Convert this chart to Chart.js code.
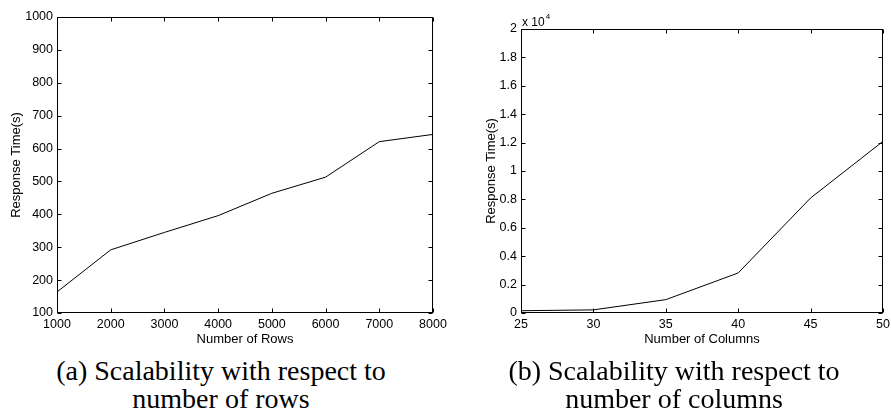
<!DOCTYPE html>
<html><head><meta charset="utf-8">
<script src="https://cdn.jsdelivr.net/npm/chart.js@4/dist/chart.umd.min.js"></script>
<style>
html,body{margin:0;padding:0;background:#fff;width:891px;height:414px;overflow:hidden;}
.box{position:absolute;}
.cap{position:absolute;font-family:'Liberation Serif','Times New Roman',serif;font-size:28px;line-height:28px;text-align:center;color:#000;white-space:nowrap;width:420px;}
</style></head><body>
<div class="box" style="left:0;top:0;width:460px;height:350px"><canvas id="c1" width="460" height="350"></canvas></div>
<div class="box" style="left:450px;top:0;width:441px;height:350px"><canvas id="c2" width="441" height="350"></canvas></div>
<div class="cap" style="left:11px;top:357px">(a) Scalability with respect to<br>number of rows</div>
<div class="cap" style="left:464px;top:357px">(b) Scalability with respect to<br>number of columns</div>
<script>
// ---- data ----
const rows = [1000, 2000, 3000, 4000, 5000, 6000, 7000, 8000];
const rowsTime = [164, 292, 345, 396, 464, 513, 621, 643];
const cols = [25, 30, 35, 40, 45, 50];
const colsTime = [160, 220, 940, 2820, 8100, 12090];
const rowTicks = {min: 1000, max: 8000, step: 1000};
const rowTimeTicks = {min: 100, max: 1000, step: 100};
const colTicks = {min: 25, max: 50, step: 5};
const colTimeTicks = {min: 0, max: 20000, step: 2000};

const FONT = "Helvetica, Arial, 'Liberation Sans', sans-serif";

const frame = {
  id: 'frame',
  afterDatasetsDraw(chart) {
    const {ctx, chartArea: a, scales: {x, y}} = chart;
    const L = Math.round(a.left) + 0.5, R = Math.round(a.right) - 0.5;
    const T = Math.round(a.top) + 0.5, B = Math.round(a.bottom) - 0.5;
    ctx.save();
    ctx.strokeStyle = '#000';
    ctx.lineWidth = 1;
    ctx.strokeRect(L, T, R - L, B - T);
    const tl = 4;
    ctx.beginPath();
    x.ticks.forEach((t, i) => {
      const px = Math.round(x.getPixelForTick(i)) + 0.5;
      ctx.moveTo(px, B); ctx.lineTo(px, B - tl);
      ctx.moveTo(px, T); ctx.lineTo(px, T + tl);
    });
    y.ticks.forEach((t, i) => {
      const py = Math.round(y.getPixelForTick(i)) + 0.5;
      ctx.moveTo(L, py); ctx.lineTo(L + tl, py);
      ctx.moveTo(R, py); ctx.lineTo(R - tl, py);
    });
    ctx.stroke();
    const ex = chart.options.plugins.frame && chart.options.plugins.frame.exponent;
    if (ex) {
      ctx.fillStyle = '#000';
      ctx.textBaseline = 'alphabetic';
      ctx.textAlign = 'left';
      ctx.font = '12px ' + FONT;
      const base = 'x 10';
      ctx.fillText(base, a.left + 1, a.top - 3);
      const w = ctx.measureText(base).width;
      ctx.font = '8px ' + FONT;
      ctx.fillText(ex, a.left + 1 + w + 1, a.top - 10);
    }
    ctx.restore();
  }
};

function makeChart(id, xs, ys, xt, yt, xTitle, yTitle, opts) {
  const pts = xs.map((v, i) => ({x: v, y: ys[i]}));
  return new Chart(document.getElementById(id), {
    type: 'line',
    data: {datasets: [{data: pts, borderColor: '#000', borderWidth: 1, pointRadius: 0, tension: 0, fill: false}]},
    options: {
      responsive: false,
      animation: false,
      events: [],
      layout: {padding: {top: opts.top, right: opts.right, left: 0, bottom: 0}},
      plugins: {legend: {display: false}, tooltip: {enabled: false}, frame: {exponent: opts.exponent}},
      scales: {
        x: {
          type: 'linear', min: xt.min, max: xt.max,
          grid: {display: false, drawTicks: false},
          border: {display: false},
          ticks: {stepSize: xt.step, color: '#000', padding: 4, font: {family: FONT, size: 12.5}, callback: v => String(v), maxRotation: 0, autoSkip: false},
          title: {display: true, text: xTitle, color: '#000', font: {family: FONT, size: 13}, padding: {top: 0, bottom: 3}},
          afterFit(s) { s.height = opts.xh; s.paddingLeft = 0; s.paddingRight = 0; }
        },
        y: {
          type: 'linear', min: yt.min, max: yt.max,
          grid: {display: false, drawTicks: false},
          border: {display: false},
          ticks: {stepSize: yt.step, color: '#000', padding: 4, font: {family: FONT, size: 12.5}, callback: opts.yfmt, autoSkip: false},
          title: {display: true, text: yTitle, color: '#000', font: {family: FONT, size: 13}, padding: {top: opts.ytp, bottom: 0}},
          afterFit(s) { s.width = opts.yw; s.paddingTop = 0; s.paddingBottom = 0; }
        }
      }
    },
    plugins: [frame]
  });
}

makeChart('c1', rows, rowsTime, rowTicks, rowTimeTicks, 'Number of Rows', 'Response Time(s)',
  {top: 17, right: 27, xh: 37, yw: 57, ytp: 9, yfmt: v => String(v)});
makeChart('c2', cols, colsTime, colTicks, colTimeTicks, 'Number of Columns', 'Response Time(s)',
  {top: 29, right: 8, xh: 37, yw: 71, ytp: 34, exponent: '4', yfmt: v => String(Math.round(v / 1000) / 10)});
</script>
</body></html>
